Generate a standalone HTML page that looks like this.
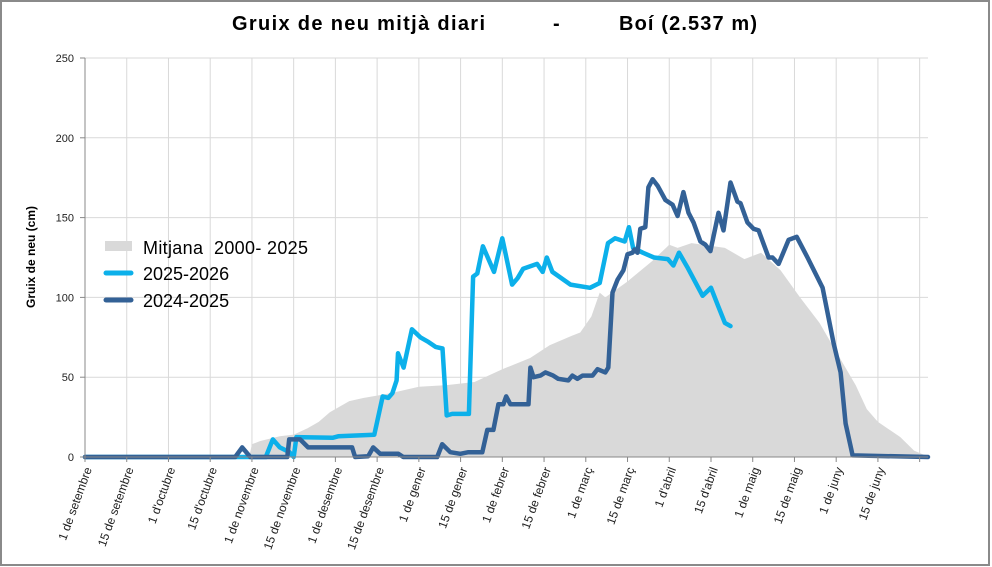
<!DOCTYPE html>
<html><head><meta charset="utf-8"><style>
html,body{margin:0;padding:0;background:#fff}
svg{display:block;font-family:"Liberation Sans",sans-serif}
</style></head><body>
<svg id="chart" width="992" height="567" viewBox="0 0 992 567">
<rect x="1" y="1" width="988" height="564" fill="#fff" stroke="#8a8a8a" stroke-width="2"/>
<text x="232" y="30" font-size="20" font-weight="bold" textLength="253" lengthAdjust="spacing">Gruix de neu mitjà diari</text>
<text x="553" y="30" font-size="20" font-weight="bold">-</text>
<text x="619" y="30" font-size="20" font-weight="bold" textLength="138" lengthAdjust="spacing">Boí (2.537 m)</text>
<text transform="translate(35,257) rotate(-90)" text-anchor="middle" font-size="12" font-weight="bold">Gruix de neu (cm)</text>
<g id="grid"></g>
<g id="marks"></g>
<g id="axes"></g>
<g>
<rect x="105" y="241" width="27" height="10" fill="#d9d9d9"/>
<text x="143" y="254" font-size="18" textLength="165" lengthAdjust="spacing" style="white-space:pre">Mitjana  2000- 2025</text>
<line x1="106" y1="273" x2="131" y2="273" stroke="#0cb0ea" stroke-width="5" stroke-linecap="round"/>
<text x="143" y="280" font-size="18">2025-2026</text>
<line x1="106" y1="300" x2="131" y2="300" stroke="#336196" stroke-width="5" stroke-linecap="round"/>
<text x="143" y="307" font-size="18">2024-2025</text>
</g>
</svg>
<script>
const yTicks=[0,50,100,150,200,250];
const xTickDays=[0,15,30,45,60,75,90,105,120,135,150,165,180,195,210,225,240,255,270,285,300];
const xTickLabels=["1 de setembre","15 de setembre","1 d'octubre","15 d'octubre","1 de novembre","15 de novembre","1 de desembre","15 de desembre","1 de gener","15 de gener","1 de febrer","15 de febrer","1 de març","15 de març","1 d'abril","15 d'abril","1 de maig","15 de maig","1 de juny","15 de juny"];
const meanDays=[59,60,63,70,75,80,84,88,92,95,100,110,120,130,140,150,160,167,175,178,182,185,187,195,204,210,213,218,230,237,243,250,257,264,271,277,281,285,293,298,302];
const meanVals=[0,8,10,13,14,18,22,28,32,35,37,40,44,45,47,55,62,70,76,78,88,103,100,110,123,133,131,134,131,124,128,117,100,84,63,45,30,22,12.5,4,1];
const s2526Days=[0,65,67.5,70,73.5,75,76,89,91,104,107,109,110.5,112,112.5,114.5,117.5,120.5,123.5,126,128.5,130,132,138,139.5,141,143,147,150,153.5,155.5,157.5,162.5,164.5,166,168,174.5,181.5,185,188,190.5,194,195.5,197,200.5,204.5,209.5,211.5,213.5,216.5,222,225,227.5,230,232];
const s2526Vals=[0,0,11,6,3,0,12.5,12,13,14,38,37,40,48,65,56,80,75,72,69,68,26,27,27,113,115,132,116,137,108,112,118,121,116,125,116,108,106,109,134,137,135,144,131,128,125,124,120,128,119,101,106,95,84,82];
const s2425Days=[0,54,56.5,59.4,72.7,73.4,77.3,80.2,96,97.1,101.8,103.6,106.1,112.6,114.4,126.6,128.4,131.3,134.9,137.8,142.8,144.6,146.8,148.6,150.4,151.4,152.9,159.4,160.1,161.2,163.7,165.5,168.3,170.1,173.7,175.2,177,178.8,182.4,184.2,187,188.1,189.6,191.4,193.5,195,196.8,197.5,198.6,199.6,201.4,202.5,204,205.8,208.6,211.2,213,215.1,216.9,218.7,221.2,223,224.8,227.7,229.5,232,234.5,235.6,238.1,240.3,242.1,245.7,247.1,249.3,252.9,255.8,259.7,265.1,269.1,271.6,273.4,275.9,303];
const s2425Vals=[0,0,6,0,0,11,11,6,6,0,0.5,6,2,2,0,0,8,3,2,3,3,17,17,33,33,38,33,33,56,50,51,53,51,49,48,51,49,51,51,55,53,56,103,111,117,127,128,130,128,143,144,169,174,170,161,158,151,166,153,147,135,133,129,153,142,172,160,159,147,143,142,125,125,121,136,138,125,106,71,53,21,1,0];
const NS='http://www.w3.org/2000/svg';
const X0=85,X1=928,Y0=457,Y1=58,DMAX=303,VMAX=250;
function xS(d){return X0+d*(X1-X0)/DMAX;}
function yS(v){return Y0-v*(Y0-Y1)/VMAX;}
function mk(tag,attrs,parent){const e=document.createElementNS(NS,tag);for(const k in attrs)e.setAttribute(k,attrs[k]);parent.appendChild(e);return e;}
const grid=document.getElementById('grid'),marks=document.getElementById('marks'),axes=document.getElementById('axes');
yTicks.forEach(v=>{if(v>0){const l=mk('line',{x1:X0,x2:X1,y1:yS(v),y2:yS(v),stroke:'#d9d9d9','stroke-width':1},grid);

}
const t=mk('line',{x1:X0-5,x2:X0,y1:yS(v),y2:yS(v),stroke:'#888','stroke-width':1},axes);


const tx=mk('text',{x:X0-11,y:yS(v)+4,'text-anchor':'end','font-size':11,fill:'#222'},axes);tx.textContent=v;

});
xTickDays.forEach((d,i)=>{if(d>0){const l=mk('line',{x1:xS(d),x2:xS(d),y1:Y1,y2:Y0,stroke:'#d9d9d9','stroke-width':1},grid);

}
const t=mk('line',{x1:xS(d),x2:xS(d),y1:Y0,y2:Y0+5,stroke:'#888','stroke-width':1},axes);


if(xTickLabels[i]){const tx=mk('text',{transform:`translate(${xS(d)+7},${Y0+12}) rotate(-70)`,'text-anchor':'end','font-size':12,fill:'#222'},axes);tx.textContent=xTickLabels[i];

}});
mk('line',{x1:X0,x2:X0,y1:Y1,y2:Y0,stroke:'#888','stroke-width':1},axes);
mk('line',{x1:X0,x2:X1,y1:Y0,y2:Y0,stroke:'#888','stroke-width':1},axes);
let ap=`M${xS(meanDays[0])},${yS(0)}`;meanDays.forEach((d,i)=>ap+=`L${xS(d)},${yS(meanVals[i])}`);ap+=`L${xS(meanDays[meanDays.length-1])},${yS(0)}Z`;
const area=mk('path',{d:ap,fill:'#d9d9d9'},marks);


function line(days,vals,color,name){const n=Math.min(days.length,vals.length);const p=days.slice(0,n).map((d,i)=>`${i?'L':'M'}${xS(d).toFixed(1)},${yS(vals[i]).toFixed(1)}`).join('');
const e=mk('path',{d:p,fill:'none',stroke:color,'stroke-width':4.5,'stroke-linejoin':'round','stroke-linecap':'round'},marks);

}
line(s2526Days,s2526Vals,'#0cb0ea','series-2025-2026-line');
line(s2425Days,s2425Vals,'#336196','series-2024-2025-line');
</script>
</body></html>
